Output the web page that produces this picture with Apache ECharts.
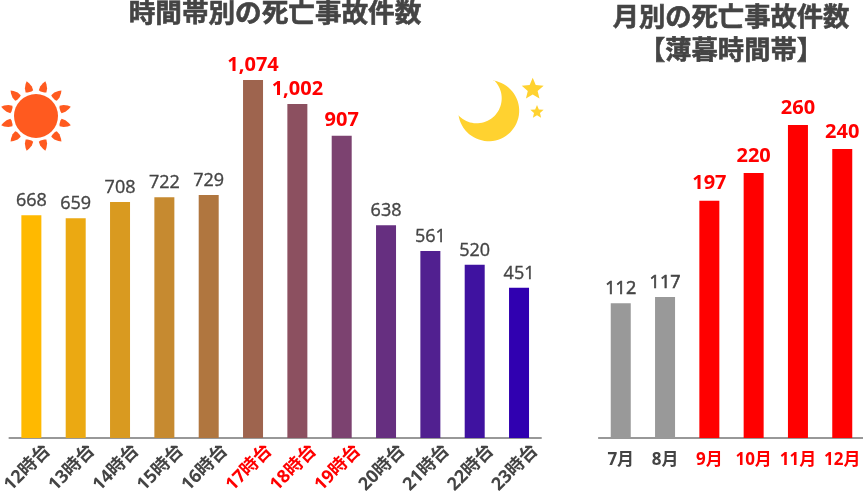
<!DOCTYPE html>
<html><head><meta charset="utf-8">
<style>html,body{margin:0;padding:0;background:#fff}#c{width:863px;height:492px}</style>
<script src="https://cdn.jsdelivr.net/npm/echarts@6/dist/echarts.min.js"></script>
</head><body><div id="c"></div>
<script>
const hours = ['12時台','13時台','14時台','15時台','16時台','17時台','18時台','19時台','20時台','21時台','22時台','23時台'];
const hourValues = [668,659,708,722,729,1074,1002,907,638,561,520,451];
const hourColors = ['#FFB900','#EBA912','#D99A20','#C68A30','#B0763F','#9E644E','#8C5060','#7C4270','#662F80','#512090','#3F12A0','#3000B0'];
const hourRed = ['17時台','18時台','19時台'];
const months = ['7月','8月','9月','10月','11月','12月'];
const monthValues = [112,117,197,220,260,240];
const monthColors = ['#999999','#999999','#FF0000','#FF0000','#FF0000','#FF0000'];
const monthRed = ['9月','10月','11月','12月'];
const FONT = '"Open Sans","Noto Sans CJK JP",sans-serif';
const JP = '"Noto Sans CJK JP",sans-serif';
const DARK = '#444444', RED = '#FF0000';

function sunRays(cx, cy){
  const out = [];
  const ray = [[0,-36],[1.8,-33.5],[3.6,-29.5],[3.9,-25.5],[2,-24.8],[-2,-24.8],[-3.9,-25.5],[-3.6,-29.5],[-1.8,-33.5]];
  for(let i=0;i<12;i++){
    const a = (15 + i*30)*Math.PI/180, c=Math.cos(a), s=Math.sin(a);
    out.push({type:'polygon',
      shape:{points:ray.map(([x,y])=>[cx+x*c-y*s, cy+x*s+y*c])},
      style:{fill:'#FF5A1F'}, silent:true});
  }
  return out;
}
function arcPts(cx,cy,r,a0,a1,n){
  const p=[];
  for(let i=0;i<=n;i++){const a=a0+(a1-a0)*i/n; p.push([cx+r*Math.cos(a),cy+r*Math.sin(a)]);}
  return p;
}
function moonPts(){
  const ox=488.7,oy=110.7,R=30.5,ix=476.7,iy=98.3,r=25;
  const t1=[493.3,80.7],t2=[458.3,115];
  const a=(q,x,y)=>Math.atan2(q[1]-y,q[0]-x);
  let o0=a(t1,ox,oy),o1=a(t2,ox,oy); if(o1<o0) o1+=2*Math.PI;
  let i0=a(t2,ix,iy),i1=a(t1,ix,iy); if(i1>i0) i1-=2*Math.PI;
  return arcPts(ox,oy,R,o0,o1,48).concat(arcPts(ix,iy,r,i0,i1,40));
}
function starPts(cx,cy,R){
  const p=[];
  for(let i=0;i<10;i++){
    const r=i%2?R*0.45:R, a=-Math.PI/2+i*Math.PI/5;
    p.push([cx+r*Math.cos(a),cy+r*Math.sin(a)]);
  }
  return p;
}
function barSeries(values, colors, ax, redSet, cats, normalBorder, redDist){
  return {type:'bar', xAxisIndex:ax, yAxisIndex:ax, barWidth:20,
    data: values.map((v,i)=>{
      const red = redSet.includes(cats[i]);
      return {value:v, itemStyle:{color:colors[i]},
        label:{color:red?RED:DARK, fontWeight:red?'bold':'normal', fontSize:red?20:18, distance:red?redDist:5,
          textBorderColor:red?'transparent':DARK, textBorderWidth:red?0:normalBorder}};
    }),
    label:{show:true, position:'top', fontFamily:FONT,
      formatter:p=>p.value.toLocaleString('en-US')},
    animation:false};
}
function xAxis(grid, cats, redSet, rotate, size){
  const label = {interval:0, rotate:rotate, margin:14, fontSize:size, fontWeight:'bold', fontFamily:FONT,
      color:v=>redSet.includes(v)?RED:DARK};
  if(rotate) Object.assign(label,{align:'center',verticalAlign:'middle',margin:26,padding:[0,11,0,0]});
  return {type:'category', gridIndex:grid, data:cats,
    axisLine:{show:true, lineStyle:{color:'#777777', width:1.5}},
    axisTick:{show:false}, axisLabel:label};
}
const titleStyle = {fontFamily:JP,fontWeight:'bold',fontSize:26.3,color:DARK,textBorderColor:DARK,textBorderWidth:0.6};
const chart = echarts.init(document.getElementById('c'), null, {renderer:'canvas'});
chart.setOption({
  animation:false, backgroundColor:'#fff',
  title:[
    {text:'時間帯別の死亡事故件数', left:270, top:-6, textAlign:'center', textStyle:Object.assign({},titleStyle,{fontSize:26.6})},
    {text:'月別の死亡事故件数\n【薄暮時間帯】', left:726, top:-6, textAlign:'center',
     textStyle:Object.assign({},titleStyle,{lineHeight:33.5})}
  ],
  grid:[
    {left:9.2, width:532, top:80, height:358, outerBoundsMode:'none', containLabel:false},
    {left:598.6, width:265.8, top:80, height:358, outerBoundsMode:'none', containLabel:false}
  ],
  xAxis:[xAxis(0,hours,hourRed,45,18), xAxis(1,months,monthRed,0,17)],
  yAxis:[
    {type:'value',gridIndex:0,min:0,max:1074,show:false,splitLine:{show:false}},
    {type:'value',gridIndex:1,min:0,max:297.3,show:false,splitLine:{show:false}}
  ],
  series:[
    barSeries(hourValues,hourColors,0,hourRed,hours,0.35,5),
    barSeries(monthValues,monthColors,1,monthRed,months,0.6,7)
  ],
  graphic:[
    {type:'circle',shape:{cx:36,cy:116,r:22},style:{fill:'#FF5A1F'},silent:true},
    ...sunRays(36,116),
    {type:'polygon',shape:{points:moonPts()},style:{fill:'#FFD230'},silent:true},
    {type:'polygon',shape:{points:starPts(532.7,89.3,11.5)},style:{fill:'#FFD230'},silent:true},
    {type:'polygon',shape:{points:starPts(537,112,7)},style:{fill:'#FFD230'},silent:true}
  ]
});
</script></body></html>
